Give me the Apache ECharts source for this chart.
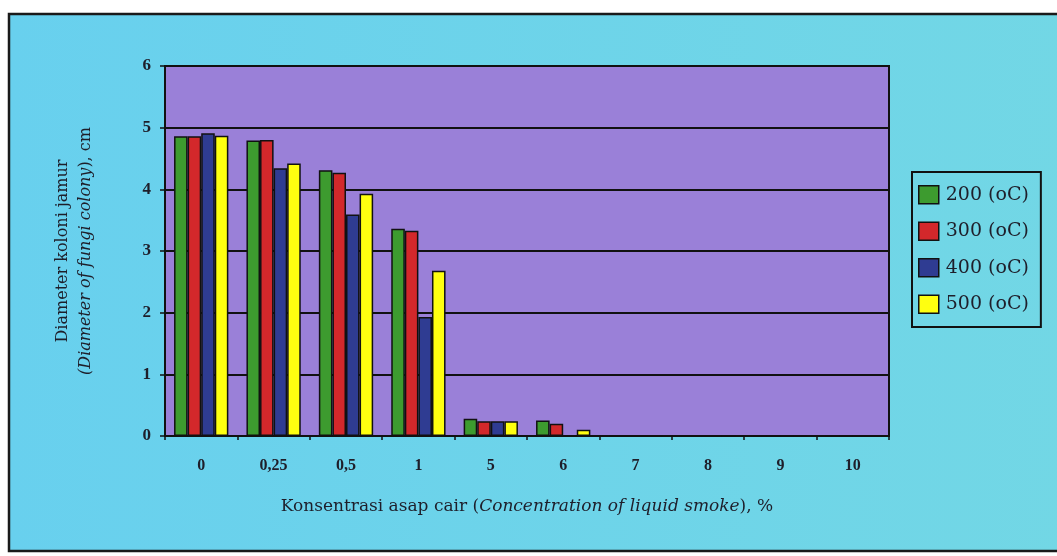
<!DOCTYPE html>
<html>
<head>
<meta charset="utf-8">
<script src="https://cdn.jsdelivr.net/npm/echarts@6/dist/echarts.min.js"></script>
<style>
  html, body { margin: 0; padding: 0; background: #ffffff; }
  #main { width: 1057px; height: 556px; }
</style>
</head>
<body>
<div id="main"></div>
<script>
// konsentrasi asap cair (%)
var categories = ['0', '0,25', '0,5', '1', '5', '6', '7', '8', '9', '10'];
var seriesNames = ['200 (oC)', '300 (oC)', '400 (oC)', '500 (oC)'];
// diameter koloni jamur (cm)
var t200 = [4.86, 4.79, 4.31, 3.36, 0.28, 0.25, 0, 0, 0, 0];
var t300 = [4.86, 4.80, 4.27, 3.33, 0.24, 0.20, 0, 0, 0, 0];
var t400 = [4.91, 4.34, 3.59, 1.93, 0.24, 0, 0, 0, 0, 0];
var t500 = [4.87, 4.42, 3.93, 2.68, 0.24, 0.10, 0, 0, 0, 0];
var yTicks = [0, 1, 2, 3, 4, 5, 6];

var colors = ['#3d9b2f', '#d3282b', '#2f3c92', '#ffff10'];
var serif = 'Liberation Serif';
var wide = 'DejaVu Serif';
var ink = '#1e1e2a';

var chart = echarts.init(document.getElementById('main'));

function bar(name, data, i) {
  return {
    name: name,
    type: 'bar',
    data: data,
    barGap: '0%',
    barCategoryGap: '25%',
    itemStyle: { color: colors[i], borderColor: '#111', borderWidth: 1.5 }
  };
}

var option = {
  backgroundColor: '#ffffff',
  animation: false,
  color: colors,
  graphic: [{
    type: 'rect',
    z: -10,
    shape: { x: 9, y: 14, width: 1060, height: 537 },
    style: {
      fill: new echarts.graphic.LinearGradient(0, 0, 1, 0, [
        { offset: 0, color: '#68d0ee' },
        { offset: 1, color: '#72d7e5' }
      ]),
      stroke: '#1a1a1a',
      lineWidth: 2.5
    }
  }],
  grid: {
    left: 165, right: 168, top: 66, bottom: 120,
    show: true,
    backgroundColor: '#9a80d8',
    borderColor: '#111',
    borderWidth: 2
  },
  legend: {
    orient: 'vertical',
    left: 912, top: 172,
    padding: [13, 12, 13, 6],
    icon: 'rect',
    itemWidth: 20, itemHeight: 18,
    itemGap: 17,
    borderColor: '#111', borderWidth: 2,
    data: seriesNames,
    itemStyle: { borderColor: '#111', borderWidth: 1.5 },
    textStyle: { fontFamily: wide, fontSize: 19, color: ink, padding: [0, 0, 0, 2] }
  },
  xAxis: {
    type: 'category',
    data: categories,
    axisLine: { lineStyle: { color: '#111', width: 2 } },
    axisTick: { show: true, length: 4, lineStyle: { color: '#111', width: 1.5 } },
    axisLabel: { margin: 22, fontFamily: serif, fontWeight: 'bold', fontSize: 16, color: ink },
    name: '{n|Konsentrasi asap cair (}{i|Concentration of liquid smoke}{n|), %}',
    nameLocation: 'middle',
    nameGap: 62,
    nameTextStyle: {
      rich: {
        n: { fontFamily: wide, fontSize: 17, color: ink },
        i: { fontFamily: wide, fontSize: 17, fontStyle: 'italic', color: ink }
      }
    }
  },
  yAxis: {
    type: 'value',
    min: 0, max: 6, interval: 1,
    axisLine: { show: true, lineStyle: { color: '#111', width: 2 } },
    axisTick: { show: true, length: 5, lineStyle: { color: '#111', width: 1.5 } },
    splitLine: { lineStyle: { color: '#111', width: 2 } },
    axisLabel: {
      margin: 14, fontFamily: serif, fontWeight: 'bold', fontSize: 17, color: ink,
      formatter: function (v) { return yTicks.indexOf(v) >= 0 ? String(v) : ''; }
    },
    name: '{n|Diameter koloni jamur}\n{i|(Diameter of fungi colony}{n|), cm}',
    nameLocation: 'middle',
    nameRotate: 90,
    nameGap: 68,
    nameTextStyle: {
      lineHeight: 23,
      rich: {
        n: { fontFamily: wide, fontSize: 16, color: ink, lineHeight: 23 },
        i: { fontFamily: wide, fontSize: 16, fontStyle: 'italic', color: ink, lineHeight: 23 }
      }
    }
  },
  series: [
    bar(seriesNames[0], t200, 0),
    bar(seriesNames[1], t300, 1),
    bar(seriesNames[2], t400, 2),
    bar(seriesNames[3], t500, 3)
  ]
};

chart.setOption(option);
</script>
</body>
</html>
